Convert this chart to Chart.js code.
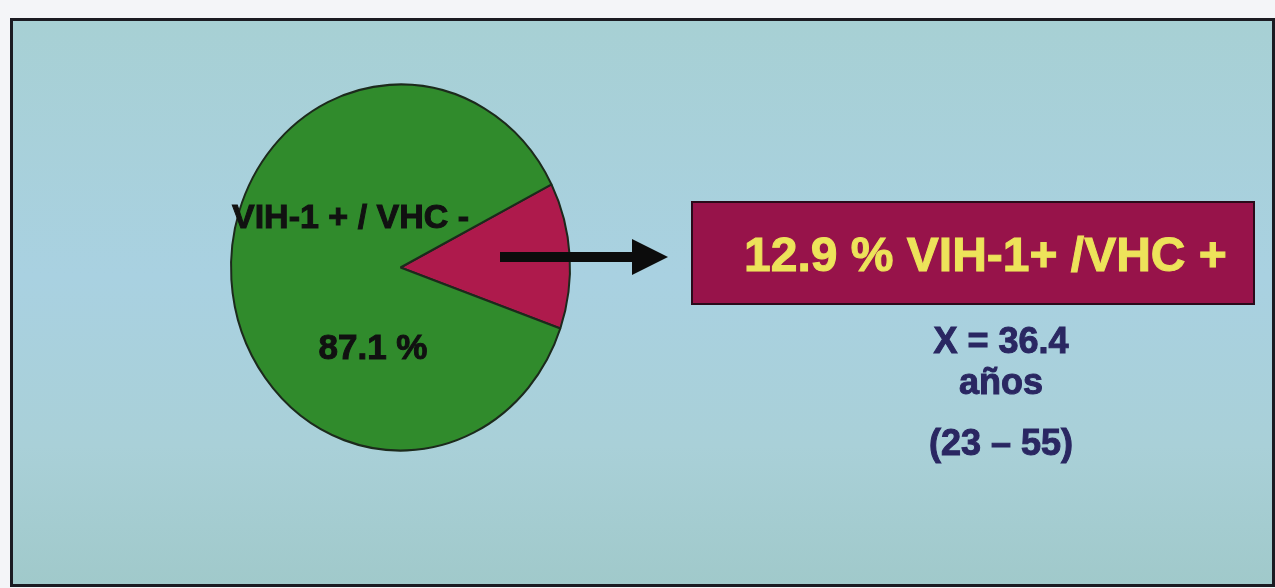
<!DOCTYPE html>
<html>
<head>
<meta charset="utf-8">
<script src="https://cdn.jsdelivr.net/npm/chart.js@4/dist/chart.umd.min.js"></script>
<style>
  html, body { margin: 0; padding: 0; background: #ffffff; }
  #piechart { display: block; }
</style>
</head>
<body>
<canvas id="piechart" width="1275" height="588"></canvas>
<script>
'use strict';
// data
const categories = ['VIH-1+ /VHC +', 'VIH-1 + / VHC -'];
const values = [12.9, 87.1];
const sliceColors = ['#ae1a4c', '#308b2c'];
const ageLines = ['X = 36.4', 'años', '(23 – 55)'];

const FONT = '"Liberation Sans", Arial, sans-serif';

// slide background + frame
const slideBg = {
    id: 'slideBg',
    beforeDraw(chart) {
        const c = chart.ctx;
        c.save();
        c.fillStyle = '#f4f5f8';
        c.fillRect(0, 0, chart.width, chart.height);
        const g = c.createLinearGradient(0, 20, 0, 588);
        g.addColorStop(0, '#a7d0d4');
        g.addColorStop(0.45, '#a9d1e1');
        g.addColorStop(0.75, '#a9d0d8');
        g.addColorStop(1, '#a0c9ca');
        c.fillStyle = g;
        c.fillRect(12, 20, 1261, 566);
        c.strokeStyle = '#1b1b22';
        c.lineWidth = 3;
        c.strokeRect(11.5, 19.5, 1262, 566);
        c.restore();
    }
};

// squash the pie into the slightly tall ellipse of the slide
const stretch = {
    id: 'stretch',
    beforeDatasetsDraw(chart) {
        const a = chart.getDatasetMeta(0).data[0];
        const c = chart.ctx;
        c.save();
        c.translate(a.x, a.y);
        c.scale(1, 1.08);
        c.translate(-a.x, -a.y);
    },
    afterDatasetsDraw(chart) {
        chart.ctx.restore();
    }
};

// heavy text: fill plus a thin stroke of the same colour
const heavyText = (c, txt, x, y, color) => {
    c.fillStyle = color;
    c.strokeStyle = color;
    c.lineWidth = 1;
    c.fillText(txt, x, y);
    c.strokeText(txt, x, y);
};

// labels, arrow and the callout box
const callouts = {
    id: 'callouts',
    afterDraw(chart) {
        const c = chart.ctx;
        c.save();
        c.textBaseline = 'middle';

        c.font = 'bold 34px ' + FONT;
        c.textAlign = 'left';
        heavyText(c, categories[1], 232, 219, '#111111');
        c.textAlign = 'center';
        c.font = 'bold 35px ' + FONT;
        heavyText(c, values[1].toFixed(1) + ' %', 373, 349, '#111111');

        // arrow
        c.fillStyle = '#0c0c0c';
        c.fillRect(500, 252, 136, 10);
        c.beginPath();
        c.moveTo(632, 239);
        c.lineTo(668, 257);
        c.lineTo(632, 275);
        c.closePath();
        c.fill();

        // box
        c.fillStyle = '#97134a';
        c.fillRect(692, 202, 562, 102);
        c.strokeStyle = '#2a0a1a';
        c.lineWidth = 2;
        c.strokeRect(692, 202, 562, 102);
        c.font = 'bold 48px ' + FONT;
        c.textAlign = 'left';
        heavyText(c, values[0].toFixed(1) + ' % ' + categories[0], 744, 258, '#ede35a');

        c.textAlign = 'center';
        c.font = 'bold 36px ' + FONT;
        heavyText(c, ageLines[0], 1001, 343, '#2a2762');
        heavyText(c, ageLines[1], 1001, 384, '#2a2762');
        heavyText(c, ageLines[2], 1001, 445, '#2a2762');
        c.restore();
    }
};

new Chart(document.querySelector('#piechart'), {
    type: 'pie',
    data: {
        labels: categories,
        datasets: [{
            data: values,
            backgroundColor: sliceColors,
            borderColor: '#1c2a1c',
            borderWidth: 2
        }]
    },
    options: {
        responsive: false,
        animation: false,
        rotation: 63,
        layout: {
            padding: { left: 229, right: 703, top: 97, bottom: 150 }
        },
        plugins: {
            legend: { display: false },
            tooltip: { enabled: false }
        }
    },
    plugins: [slideBg, stretch, callouts]
});
</script>
</body>
</html>
